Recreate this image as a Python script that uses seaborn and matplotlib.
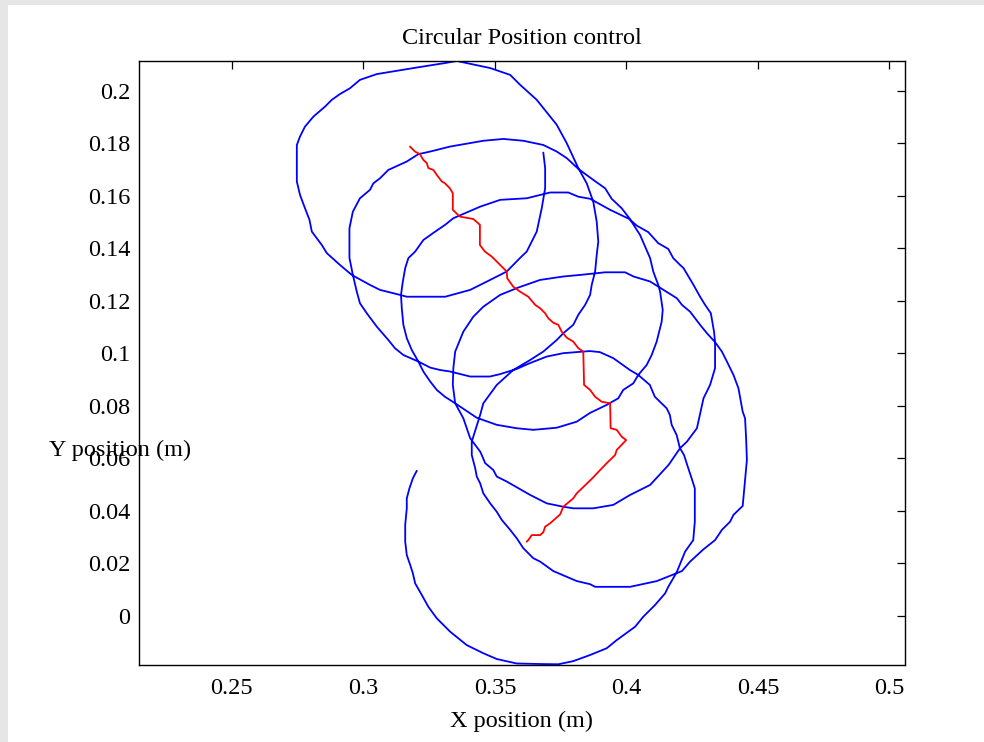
import numpy as np
import pandas as pd
import matplotlib
matplotlib.use("Agg")
import matplotlib.pyplot as plt
from matplotlib.patches import Rectangle
import seaborn as sns

# measured end-effector path (blue), in metres
traj_x = [0.3203, 0.3188, 0.3175, 0.3165, 0.3165, 0.3159, 0.3159, 0.3165, 0.3178, 0.3188,
          0.3197, 0.3222, 0.3247, 0.3279, 0.3330, 0.3393, 0.3456, 0.3507, 0.3583, 0.3672,
          0.3741, 0.3798, 0.3861, 0.3925, 0.3963, 0.4033, 0.4064, 0.4109, 0.4147, 0.4159,
          0.4191, 0.4223, 0.4254, 0.4260, 0.4260, 0.4248, 0.4235, 0.4219, 0.4203, 0.4191,
          0.4172, 0.4165, 0.4153, 0.4108, 0.4089, 0.4045, 0.4013, 0.3950, 0.3899, 0.3861,
          0.3836, 0.3760, 0.3697, 0.3633, 0.3583, 0.3519, 0.3481, 0.3406, 0.3330, 0.3291,
          0.3254, 0.3209, 0.3152, 0.3120, 0.3095, 0.3051, 0.3013, 0.2987, 0.2975, 0.2960,
          0.2947, 0.2947, 0.2960, 0.2987, 0.3025, 0.3038, 0.3063, 0.3095, 0.3165, 0.3209,
          0.3254, 0.3330, 0.3456, 0.3532, 0.3608, 0.3684, 0.3735, 0.3773, 0.3817, 0.3874,
          0.3919, 0.3944, 0.3982, 0.4011, 0.4052, 0.4071, 0.4090, 0.4096, 0.4102, 0.4121,
          0.4128, 0.4138, 0.4134, 0.4115, 0.4096, 0.4077, 0.4045, 0.4026, 0.3988, 0.3969,
          0.3925, 0.3861, 0.3811, 0.3735, 0.3646, 0.3583, 0.3507, 0.3431, 0.3349, 0.3310,
          0.3279, 0.3254, 0.3228, 0.3209, 0.3184, 0.3165, 0.3152, 0.3146, 0.3143, 0.3150,
          0.3159, 0.3171, 0.3197, 0.3228, 0.3273, 0.3311, 0.3342, 0.3444, 0.3520, 0.3621,
          0.3710, 0.3779, 0.3817, 0.3862, 0.3938, 0.4011, 0.4039, 0.4083, 0.4121, 0.4159,
          0.4178, 0.4204, 0.4217, 0.4255, 0.4280, 0.4299, 0.4321, 0.4333, 0.4337, 0.4337,
          0.4318, 0.4293, 0.4268, 0.4230, 0.4204, 0.4160, 0.4090, 0.4014, 0.3950, 0.3874,
          0.3798, 0.3760, 0.3697, 0.3634, 0.3545, 0.3507, 0.3494, 0.3463, 0.3450, 0.3444,
          0.3406, 0.3380, 0.3349, 0.3340, 0.3342, 0.3349, 0.3380, 0.3418, 0.3456, 0.3520,
          0.3589, 0.3672, 0.3760, 0.3824, 0.3919, 0.3995, 0.4027, 0.4090, 0.4122, 0.4192,
          0.4211, 0.4242, 0.4280, 0.4306, 0.4337, 0.4363, 0.4382, 0.4407, 0.4426, 0.4442,
          0.4451, 0.4455, 0.4458, 0.4451, 0.4442, 0.4407, 0.4394, 0.4363, 0.4337, 0.4293,
          0.4242, 0.4211, 0.4166, 0.4116, 0.4014, 0.3881, 0.3862, 0.3811, 0.3722, 0.3672,
          0.3646, 0.3608, 0.3583, 0.3558, 0.3526, 0.3507, 0.3482, 0.3456, 0.3444, 0.3431,
          0.3425, 0.3412, 0.3412, 0.3444, 0.3456, 0.3507, 0.3570, 0.3634, 0.3684, 0.3735,
          0.3760, 0.3798, 0.3817, 0.3843, 0.3862, 0.3868, 0.3881, 0.3887, 0.3893, 0.3887,
          0.3874, 0.3849, 0.3817, 0.3773, 0.3735, 0.3659, 0.3596, 0.3558, 0.3482, 0.3355,
          0.3310, 0.3203, 0.3051, 0.2987, 0.2949, 0.2911, 0.2880, 0.2854, 0.2810, 0.2778,
          0.2759, 0.2747, 0.2747, 0.2759, 0.2778, 0.2795, 0.2804, 0.2842, 0.2861, 0.2911,
          0.2956, 0.3025, 0.3063, 0.3139, 0.3165, 0.3311, 0.3406, 0.3482, 0.3545, 0.3596,
          0.3621, 0.3659, 0.3678, 0.3691, 0.3691, 0.3684]
traj_y = [0.0552, 0.0523, 0.0485, 0.0447, 0.0409, 0.0346, 0.0282, 0.0231, 0.0193, 0.0162,
          0.0123, 0.0079, 0.0034, -0.0010, -0.0061, -0.0112, -0.0143, -0.0165, -0.0182, -0.0184,
          -0.0185, -0.0173, -0.0150, -0.0124, -0.0093, -0.0042, -0.0004, 0.0041, 0.0085, 0.0110,
          0.0165, 0.0244, 0.0288, 0.0358, 0.0485, 0.0523, 0.0562, 0.0612, 0.0639, 0.0688,
          0.0727, 0.0765, 0.0790, 0.0834, 0.0879, 0.0917, 0.0936, 0.0981, 0.1004, 0.1008,
          0.1006, 0.1000, 0.0987, 0.0962, 0.0940, 0.0920, 0.0911, 0.0911, 0.0930, 0.0936,
          0.0945, 0.0968, 0.0993, 0.1019, 0.1050, 0.1101, 0.1152, 0.1190, 0.1234, 0.1298,
          0.1363, 0.1476, 0.1539, 0.1590, 0.1622, 0.1647, 0.1666, 0.1698, 0.1730, 0.1758,
          0.1768, 0.1787, 0.1809, 0.1816, 0.1809, 0.1793, 0.1768, 0.1743, 0.1702, 0.1660,
          0.1628, 0.1588, 0.1552, 0.1514, 0.1450, 0.1406, 0.1362, 0.1336, 0.1311, 0.1260,
          0.1234, 0.1165, 0.1120, 0.1044, 0.0993, 0.0955, 0.0917, 0.0885, 0.0860, 0.0828,
          0.0803, 0.0772, 0.0739, 0.0716, 0.0708, 0.0714, 0.0727, 0.0754, 0.0809, 0.0834,
          0.0860, 0.0892, 0.0930, 0.0968, 0.1012, 0.1057, 0.1108, 0.1171, 0.1222, 0.1273,
          0.1324, 0.1362, 0.1387, 0.1431, 0.1463, 0.1489, 0.1514, 0.1558, 0.1584, 0.1590,
          0.1612, 0.1612, 0.1596, 0.1588, 0.1546, 0.1511, 0.1486, 0.1461, 0.1419, 0.1397,
          0.1362, 0.1336, 0.1324, 0.1260, 0.1215, 0.1184, 0.1152, 0.1082, 0.1042, 0.0943,
          0.0879, 0.0828, 0.0714, 0.0663, 0.0638, 0.0574, 0.0498, 0.0460, 0.0422, 0.0409,
          0.0409, 0.0415, 0.0428, 0.0460, 0.0511, 0.0530, 0.0555, 0.0581, 0.0612, 0.0625,
          0.0676, 0.0752, 0.0809, 0.0879, 0.0943, 0.1006, 0.1082, 0.1139, 0.1177, 0.1222,
          0.1250, 0.1279, 0.1292, 0.1298, 0.1308, 0.1308, 0.1292, 0.1273, 0.1253, 0.1209,
          0.1184, 0.1158, 0.1108, 0.1076, 0.1042, 0.1006, 0.0968, 0.0917, 0.0866, 0.0777,
          0.0752, 0.0676, 0.0593, 0.0517, 0.0418, 0.0384, 0.0358, 0.0327, 0.0288, 0.0253,
          0.0206, 0.0170, 0.0152, 0.0132, 0.0110, 0.0110, 0.0120, 0.0132, 0.0170, 0.0206,
          0.0219, 0.0257, 0.0295, 0.0327, 0.0365, 0.0396, 0.0428, 0.0466, 0.0504, 0.0530,
          0.0562, 0.0612, 0.0663, 0.0765, 0.0809, 0.0879, 0.0936, 0.0974, 0.1006, 0.1050,
          0.1076, 0.1108, 0.1146, 0.1184, 0.1222, 0.1260, 0.1311, 0.1374, 0.1425, 0.1501,
          0.1577, 0.1647, 0.1705, 0.1800, 0.1870, 0.1965, 0.2022, 0.2060, 0.2086, 0.2113,
          0.2105, 0.2088, 0.2063, 0.2041, 0.2009, 0.1987, 0.1965, 0.1939, 0.1901, 0.1863,
          0.1825, 0.1793, 0.1654, 0.1603, 0.1552, 0.1508, 0.1463, 0.1412, 0.1381, 0.1336,
          0.1298, 0.1260, 0.1241, 0.1222, 0.1215, 0.1215, 0.1241, 0.1279, 0.1311, 0.1363,
          0.1387, 0.1463, 0.1552, 0.1628, 0.1705, 0.1764]

# circle-centre path (red)
centre_x = [0.3177, 0.3196, 0.3215, 0.3228, 0.3241, 0.3247, 0.3266, 0.3279, 0.3298, 0.3310,
            0.3329, 0.3340, 0.3340, 0.3367, 0.3418, 0.3443, 0.3443, 0.3462, 0.3488, 0.3507,
            0.3545, 0.3547, 0.3570, 0.3596, 0.3627, 0.3653, 0.3672, 0.3691, 0.3703, 0.3722,
            0.3741, 0.3754, 0.3773, 0.3798, 0.3817, 0.3836, 0.3839, 0.3862, 0.3881, 0.3906,
            0.3938, 0.3940, 0.3963, 0.3982, 0.3999, 0.3963, 0.3957, 0.3925, 0.3868, 0.3811,
            0.3798, 0.3760, 0.3748, 0.3710, 0.3691, 0.3684, 0.3672, 0.3640, 0.3627, 0.3621]
centre_y = [0.1787, 0.1768, 0.1758, 0.1736, 0.1724, 0.1705, 0.1698, 0.1679, 0.1654, 0.1647,
            0.1628, 0.1609, 0.1546, 0.1520, 0.1511, 0.1489, 0.1412, 0.1387, 0.1368, 0.1349,
            0.1311, 0.1285, 0.1253, 0.1234, 0.1215, 0.1184, 0.1171, 0.1152, 0.1133, 0.1116,
            0.1108, 0.1082, 0.1059, 0.1044, 0.1019, 0.1006, 0.0879, 0.0860, 0.0834, 0.0815,
            0.0809, 0.0714, 0.0708, 0.0682, 0.0669, 0.0631, 0.0612, 0.0581, 0.0521, 0.0466,
            0.0447, 0.0415, 0.0386, 0.0352, 0.0339, 0.0318, 0.0307, 0.0307, 0.0288, 0.0282]

x_ticks = [0.25, 0.3, 0.35, 0.4, 0.45, 0.5]
x_tick_labels = ["0.25", "0.3", "0.35", "0.4", "0.45", "0.5"]
y_ticks = [0, 0.02, 0.04, 0.06, 0.08, 0.1, 0.12, 0.14, 0.16, 0.18, 0.2]
y_tick_labels = ["0", "0.02", "0.04", "0.06", "0.08", "0.1", "0.12", "0.14", "0.16", "0.18", "0.2"]

sns.set_style("white")
plt.rcParams['font.family'] = ['Liberation Serif', 'DejaVu Serif']
plt.rcParams['text.color'] = 'black'
plt.rcParams['axes.labelcolor'] = 'black'
fs = 17.5

fig = plt.figure(figsize=(9.84, 7.42), dpi=100, facecolor='#e6e6e6')
# white plotting panel inside the grey window frame
fig.add_artist(Rectangle((8 / 984, 0), 1, 1 - 5 / 742, transform=fig.transFigure,
                         facecolor='white', edgecolor='none', zorder=-1))
ax = fig.add_axes([0.141, 0.1044, 0.7787, 0.8138])

traj = pd.DataFrame({'x': traj_x, 'y': traj_y})
centre = pd.DataFrame({'x': centre_x, 'y': centre_y})
sns.lineplot(data=traj, x='x', y='y', sort=False, estimator=None, color='#0000ff', lw=1.3, ax=ax)
sns.lineplot(data=centre, x='x', y='y', sort=False, estimator=None, color='#ff0000', lw=1.3, ax=ax)

ax.set_xlim(0.2146, 0.5059)
ax.set_ylim(-0.0186, 0.2114)
ax.set_xticks(x_ticks)
ax.set_xticklabels(x_tick_labels)
ax.set_yticks(y_ticks)
ax.set_yticklabels(y_tick_labels)
ax.tick_params(direction='in', length=5.5, width=0.9, top=True, right=True,
               labelsize=fs, colors='black')
ax.tick_params(axis='x', pad=10)
ax.tick_params(axis='y', pad=6)
for s in ax.spines.values():
    s.set_visible(True)
    s.set_color('black')
    s.set_linewidth(1.0)

ax.set_title('Circular Position control', fontsize=fs, pad=12, color='black')
ax.set_xlabel('X position (m)', fontsize=fs, labelpad=8, color='black')
ax.set_ylabel('Y position (m)', fontsize=fs, rotation=0, ha='center', va='center', color='black')
ax.yaxis.set_label_coords(-0.0244, 0.355)

fig.savefig('out.png', dpi=100, facecolor=fig.get_facecolor())
